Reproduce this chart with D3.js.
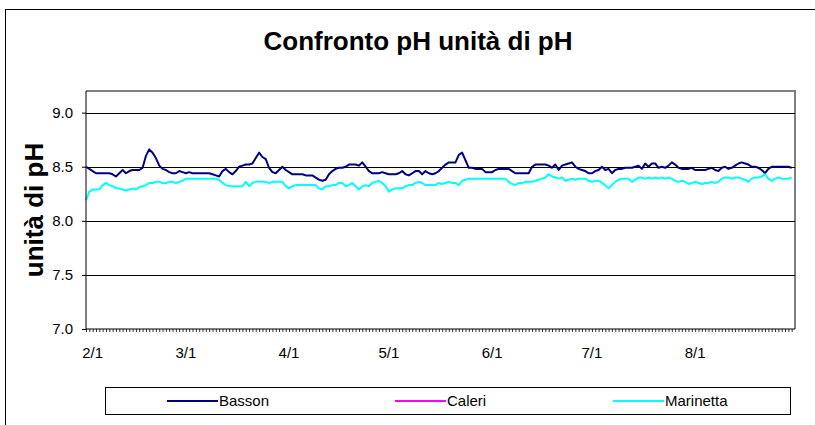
<!DOCTYPE html>
<html>
<head>
<meta charset="utf-8">
<script src="https://cdn.jsdelivr.net/npm/d3@7"></script>
<style>
  body { margin: 0; background: #fff; }
  svg { display: block; font-family: "Liberation Sans", Arial, sans-serif; }
</style>
</head>
<body>
<svg id="chart" width="815" height="425"></svg>
<script>
// First day of the daily series
var startDate = new Date(2009, 0, 30);

// Daily pH readings, one per day from startDate
var basson = [
  8.50, 8.48, 8.46, 8.44, 8.44, 8.44, 8.44, 8.44, 8.43, 8.41,
  8.44, 8.47, 8.44, 8.46, 8.47, 8.47, 8.47, 8.49, 8.60, 8.66,
  8.63, 8.58, 8.51, 8.48, 8.47, 8.45, 8.44, 8.44, 8.46, 8.45,
  8.44, 8.45, 8.44, 8.44, 8.44, 8.44, 8.44, 8.44, 8.43, 8.42,
  8.41, 8.46, 8.48, 8.45, 8.43, 8.46, 8.50, 8.51, 8.52, 8.52,
  8.53, 8.58, 8.63, 8.59, 8.57, 8.49, 8.45, 8.44, 8.47, 8.50,
  8.47, 8.45, 8.43, 8.43, 8.43, 8.43, 8.42, 8.42, 8.42, 8.40,
  8.38, 8.37, 8.38, 8.43, 8.46, 8.48, 8.49, 8.49, 8.50, 8.52,
  8.52, 8.52, 8.51, 8.54, 8.50, 8.46, 8.44, 8.44, 8.44, 8.45,
  8.44, 8.43, 8.43, 8.43, 8.44, 8.46, 8.43, 8.42, 8.44, 8.46,
  8.46, 8.43, 8.46, 8.44, 8.43, 8.44, 8.46, 8.49, 8.52, 8.54,
  8.54, 8.54, 8.61, 8.63, 8.56, 8.49, 8.49, 8.48, 8.48, 8.48,
  8.45, 8.45, 8.45, 8.47, 8.48, 8.48, 8.48, 8.48, 8.46, 8.44,
  8.44, 8.44, 8.44, 8.44, 8.50, 8.52, 8.52, 8.52, 8.52, 8.51,
  8.49, 8.52, 8.47, 8.51, 8.52, 8.53, 8.54, 8.50, 8.48, 8.47,
  8.46, 8.44, 8.44, 8.46, 8.47, 8.50, 8.47, 8.48, 8.44, 8.47,
  8.48, 8.48, 8.49, 8.49, 8.49, 8.50, 8.51, 8.48, 8.53, 8.50,
  8.53, 8.53, 8.49, 8.50, 8.49, 8.51, 8.54, 8.52, 8.49, 8.48,
  8.48, 8.48, 8.49, 8.47, 8.47, 8.47, 8.47, 8.48, 8.49, 8.47,
  8.46, 8.49, 8.50, 8.48, 8.49, 8.51, 8.53, 8.54, 8.53, 8.52,
  8.50, 8.50, 8.49, 8.47, 8.44, 8.48, 8.50, 8.50, 8.50, 8.50,
  8.50, 8.50, 8.49
];

// Caleri has no readings in this period
var caleri = [];

var marinetta = [
  8.19, 8.27, 8.29, 8.29, 8.29, 8.33, 8.35, 8.33, 8.32, 8.30,
  8.30, 8.29, 8.28, 8.29, 8.30, 8.29, 8.31, 8.32, 8.33, 8.35,
  8.35, 8.36, 8.36, 8.35, 8.35, 8.36, 8.36, 8.35, 8.36, 8.37,
  8.39, 8.39, 8.39, 8.39, 8.39, 8.39, 8.39, 8.39, 8.39, 8.39,
  8.38, 8.35, 8.33, 8.32, 8.32, 8.32, 8.32, 8.32, 8.36, 8.32,
  8.35, 8.36, 8.36, 8.36, 8.36, 8.35, 8.36, 8.36, 8.36, 8.36,
  8.32, 8.30, 8.32, 8.33, 8.33, 8.33, 8.33, 8.33, 8.33, 8.33,
  8.30, 8.29, 8.32, 8.32, 8.33, 8.33, 8.35, 8.35, 8.32, 8.33,
  8.35, 8.32, 8.29, 8.32, 8.33, 8.32, 8.35, 8.36, 8.37, 8.35,
  8.32, 8.27, 8.29, 8.30, 8.30, 8.30, 8.32, 8.33, 8.33, 8.35,
  8.36, 8.35, 8.33, 8.33, 8.33, 8.33, 8.35, 8.34, 8.35, 8.36,
  8.35, 8.35, 8.33, 8.37, 8.38, 8.39, 8.39, 8.39, 8.39, 8.39,
  8.39, 8.39, 8.39, 8.39, 8.39, 8.39, 8.39, 8.36, 8.34, 8.33,
  8.35, 8.35, 8.36, 8.36, 8.36, 8.37, 8.38, 8.39, 8.40, 8.43,
  8.41, 8.40, 8.39, 8.40, 8.37, 8.38, 8.39, 8.38, 8.39, 8.39,
  8.39, 8.37, 8.36, 8.37, 8.37, 8.35, 8.33, 8.30, 8.33, 8.36,
  8.38, 8.39, 8.39, 8.39, 8.36, 8.38, 8.40, 8.40, 8.39, 8.40,
  8.39, 8.40, 8.39, 8.40, 8.39, 8.40, 8.39, 8.37, 8.36, 8.37,
  8.36, 8.34, 8.35, 8.36, 8.35, 8.34, 8.35, 8.35, 8.36, 8.35,
  8.36, 8.39, 8.40, 8.40, 8.39, 8.40, 8.40, 8.39, 8.38, 8.36,
  8.39, 8.40, 8.40, 8.41, 8.43, 8.39, 8.37, 8.39, 8.40, 8.39,
  8.39, 8.39, 8.40
];

var seriesNames = ["Basson", "Caleri", "Marinetta"];
var seriesColors = ["#000080", "#ff00ff", "#00ffff"];

var yTicks = [7.0, 7.5, 8.0, 8.5, 9.0];
var xTickDates = ["2009-02-01", "2009-03-01", "2009-04-01", "2009-05-01", "2009-06-01", "2009-07-01", "2009-08-01"];

// Plot area box
var plot = { left: 86, top: 91, right: 795, bottom: 329 };

var svg = d3.select("#chart");

// Outer chart frame (only top and left edges fall inside the window)
svg.append("rect")
    .attr("x", 5.5).attr("y", 9.5)
    .attr("width", 830).attr("height", 430)
    .attr("fill", "#fff")
    .attr("stroke", "#000")
    .attr("stroke-width", 1);

var x = d3.scaleTime()
    .domain([startDate, new Date(2009, 7, 31)])
    .range([plot.left, plot.right]);

var y = d3.scaleLinear()
    .domain([7.0, 9.2])
    .range([plot.bottom, plot.top]);

// Plot area border, gray on top and right
svg.append("path")
    .attr("d", "M" + plot.left + "," + plot.top + "H" + plot.right + "V" + plot.bottom)
    .attr("fill", "none")
    .attr("stroke", "#808080")
    .attr("stroke-width", 2);

// Horizontal gridlines
svg.append("g")
    .selectAll("line")
    .data(yTicks.slice(1))
    .enter()
    .append("line")
    .attr("x1", plot.left).attr("x2", plot.right)
    .attr("y1", function (d) { return Math.round(y(d)) + 0.5; })
    .attr("y2", function (d) { return Math.round(y(d)) + 0.5; })
    .attr("stroke", "#000")
    .attr("stroke-width", 1);

// Series lines
var dates = basson.map(function (v, i) { return d3.timeDay.offset(startDate, i); });
var line = d3.line()
    .x(function (d) { return x(d[0]); })
    .y(function (d) { return y(d[1]); });

[basson, caleri, marinetta].forEach(function (values, i) {
    if (values.length === 0) return;
    svg.append("path")
        .datum(values.map(function (v, j) { return [dates[j], v]; }))
        .attr("d", line)
        .attr("fill", "none")
        .attr("stroke", seriesColors[i])
        .attr("stroke-width", 2)
        .attr("stroke-linejoin", "round");
});

// Y axis
var yAxis = svg.append("g")
    .attr("transform", "translate(" + plot.left + ",0)")
    .call(d3.axisLeft(y).tickValues(yTicks).tickFormat(d3.format(".1f")).tickSize(4).tickPadding(9));
yAxis.select(".domain").attr("stroke", "#000").attr("d", "M0," + plot.top + "V" + plot.bottom);
yAxis.selectAll("text")
    .attr("font-size", 15)
    .attr("font-family", "Liberation Sans, Arial, sans-serif")
    .attr("fill", "#000");

// X axis: a tick every day, labels on the first of each month
var xAxis = svg.append("g")
    .attr("transform", "translate(0," + plot.bottom + ")")
    .call(d3.axisBottom(x)
        .tickValues(d3.timeDay.range(startDate, new Date(2009, 7, 31)))
        .tickFormat("")
        .tickSize(3));
xAxis.select(".domain").attr("stroke", "#000").attr("d", "M" + plot.left + ",0H" + plot.right);
xAxis.selectAll(".tick line").attr("stroke-width", 0.8);

svg.append("g")
    .selectAll("text")
    .data(xTickDates)
    .enter()
    .append("text")
    .attr("x", function (d) { return x(d3.timeParse("%Y-%m-%d")(d)); })
    .attr("y", 358)
    .attr("text-anchor", "middle")
    .attr("font-size", 15)
    .text(function (d) { return d3.timeFormat("%-m/%-d")(d3.timeParse("%Y-%m-%d")(d)); });

// Titles
svg.append("text")
    .attr("x", 418).attr("y", 50)
    .attr("text-anchor", "middle")
    .attr("font-size", 26)
    .attr("font-weight", "bold")
    .text("Confronto pH unità di pH");

svg.append("text")
    .attr("transform", "translate(43,210) rotate(-90)")
    .attr("text-anchor", "middle")
    .attr("font-size", 26)
    .attr("font-weight", "bold")
    .text("unità di pH");

// Legend
var legend = svg.append("g");
legend.append("rect")
    .attr("x", 105.5).attr("y", 387.5)
    .attr("width", 685).attr("height", 27)
    .attr("fill", "#fff")
    .attr("stroke", "#000");

var legendX = [167, 395, 613];
seriesNames.forEach(function (name, i) {
    legend.append("line")
        .attr("x1", legendX[i]).attr("x2", legendX[i] + 51)
        .attr("y1", 401).attr("y2", 401)
        .attr("stroke", seriesColors[i])
        .attr("stroke-width", 2);
    legend.append("text")
        .attr("x", legendX[i] + 52).attr("y", 406)
        .attr("font-size", 15)
        .text(name);
});
</script>
</body>
</html>
